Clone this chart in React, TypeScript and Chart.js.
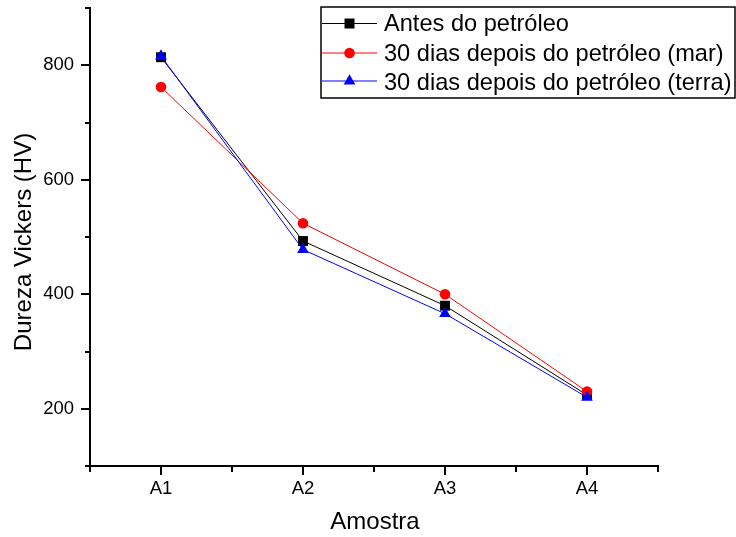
import React, { useEffect, useRef } from 'react';
import { Chart, registerables } from 'chart.js';

Chart.register(...registerables);

const categories = ['A1', 'A2', 'A3', 'A4'];
const antes = [814, 493, 380, 224];
const mar = [762, 524, 400, 230];
const terra = [816, 478, 366, 220];
const seriesLabels = [
  'Antes do petróleo',
  '30 dias depois do petróleo (mar)',
  '30 dias depois do petróleo (terra)',
];
const seriesColors = ['#000000', '#ff0000', '#0000ff'];
const seriesMarkers = ['rect', 'circle', 'triangle'];
const yMajorTicks = [200, 400, 600, 800];
const yMinorTicks = [100, 300, 500, 700, 900];
const xTitle = 'Amostra';
const yTitle = 'Dureza Vickers (HV)';

const FONT = "'Liberation Sans', Arial, sans-serif";

Chart.defaults.font = { ...Chart.defaults.font, family: FONT, size: 18 } as any;

function drawMarker(ctx: CanvasRenderingContext2D, style: string, x: number, y: number, color: string) {
  ctx.save();
  ctx.fillStyle = color;
  ctx.beginPath();
  if (style === 'rect') {
    ctx.rect(x - 5, y - 5, 10, 10);
  } else if (style === 'circle') {
    ctx.arc(x, y, 5.3, 0, Math.PI * 2);
  } else {
    const r = 6.75;
    ctx.moveTo(x, y - r);
    ctx.lineTo(x + r * Math.sin(Math.PI / 3), y + r * 0.5);
    ctx.lineTo(x - r * Math.sin(Math.PI / 3), y + r * 0.5);
    ctx.closePath();
  }
  ctx.fill();
  ctx.restore();
}

const overlay = {
  id: 'overlay',
  afterDraw(chart: any) {
    const ctx: CanvasRenderingContext2D = chart.ctx;
    const { left, bottom } = chart.chartArea;
    const ys = chart.scales.y;
    const xs = chart.scales.x;
    ctx.save();
    ctx.strokeStyle = '#000';
    ctx.lineWidth = 2;
    // minor y ticks
    yMinorTicks.forEach((v) => {
      const py = Math.round(ys.getPixelForValue(v));
      ctx.beginPath();
      ctx.moveTo(left, py);
      ctx.lineTo(left - 5, py);
      ctx.stroke();
    });
    // minor x ticks (category boundaries)
    for (let i = 0; i <= categories.length; i++) {
      const px = Math.round(xs.getPixelForValue(i - 0.5));
      ctx.beginPath();
      ctx.moveTo(px, bottom);
      ctx.lineTo(px, bottom + 6);
      ctx.stroke();
    }

    // axis titles
    ctx.fillStyle = '#000';
    ctx.font = `24px ${FONT}`;
    ctx.textAlign = 'center';
    ctx.textBaseline = 'middle';
    ctx.fillText(xTitle, 375, 522);
    ctx.save();
    ctx.translate(24, 242);
    ctx.rotate(-Math.PI / 2);
    ctx.fillText(yTitle, 0, 0);
    ctx.restore();

    // legend
    const bx = 321, by = 7, bw = 414, bh = 91;
    ctx.fillStyle = '#fff';
    ctx.fillRect(bx, by, bw, bh);
    ctx.lineWidth = 1.5;
    ctx.strokeStyle = '#000';
    ctx.strokeRect(bx, by, bw, bh);
    const rows = [23.5, 53, 81];
    const baselines = [31, 60.5, 90];
    chart.data.datasets.forEach((ds: any, i: number) => {
      const ry = rows[i];
      ctx.strokeStyle = seriesColors[i];
      ctx.lineWidth = 1;
      ctx.beginPath();
      ctx.moveTo(322, ry);
      ctx.lineTo(377, ry);
      ctx.stroke();
      drawMarker(ctx, seriesMarkers[i], 349.5, ry, seriesColors[i]);
      ctx.fillStyle = '#000';
      ctx.font = `23.6px ${FONT}`;
      ctx.textAlign = 'left';
      ctx.textBaseline = 'alphabetic';
      ctx.fillText(ds.label, 384, baselines[i]);
    });
    ctx.restore();
  },
};

export default function App() {
  const ref = useRef<HTMLCanvasElement | null>(null);
  useEffect(() => {
    if (!ref.current) return;
    const series = [antes, mar, terra];
    const chart = new Chart(ref.current, {
      type: 'line',
      data: {
        labels: categories,
        datasets: series.map((d, i) => ({
          label: seriesLabels[i],
          data: d,
          borderColor: seriesColors[i],
          backgroundColor: seriesColors[i],
          borderWidth: 1,
          pointStyle: seriesMarkers[i] as any,
          pointRadius: i === 0 ? 7 : i === 1 ? 5.3 : 6.75,
          pointBorderWidth: 0,
          pointBackgroundColor: seriesColors[i],
          pointBorderColor: seriesColors[i],
          tension: 0,
          fill: false,
          order: 2 - i,
        })),
      },
      options: {
        responsive: false,
        animation: false,
        layout: { padding: { top: 8, right: 78, left: 0, bottom: 0 } },
        plugins: {
          legend: { display: false },
          tooltip: { enabled: false },
          title: { display: false },
        },
        scales: {
          x: {
            type: 'category',
            offset: true,
            grid: {
              offset: false,
              drawOnChartArea: false,
              drawTicks: true,
              tickLength: 9,
              color: '#000',
              lineWidth: 2,
            },
            border: { display: true, color: '#000', width: 2 },
            ticks: {
              color: '#000',
              font: { size: 18.5, family: FONT },
              padding: 3,
              maxRotation: 0,
            },
            afterFit: (s: any) => {
              s.height = 71;
              s.paddingLeft = 0;
              s.paddingRight = 0;
            },
          },
          y: {
            type: 'linear',
            min: 100,
            max: 900,
            grid: {
              drawOnChartArea: false,
              drawTicks: true,
              tickLength: 9,
              color: '#000',
              lineWidth: 2,
            },
            border: { display: true, color: '#000', width: 2 },
            ticks: {
              color: '#000',
              font: { size: 18.5, family: FONT },
              padding: 7,
            },
            afterBuildTicks: (s: any) => {
              s.ticks = yMajorTicks.map((v) => ({ value: v }));
            },
            afterFit: (s: any) => {
              s.width = 90;
              s.paddingTop = 0;
              s.paddingBottom = 0;
            },
          },
        },
      },
      plugins: [overlay],
    });
    return () => chart.destroy();
  }, []);
  return (
    <div style={{ position: 'absolute', left: 0, top: 0, width: 736, height: 537, background: '#fff' }}>
      <canvas ref={ref} width={736} height={537} style={{ display: 'block' }} />
    </div>
  );
}
